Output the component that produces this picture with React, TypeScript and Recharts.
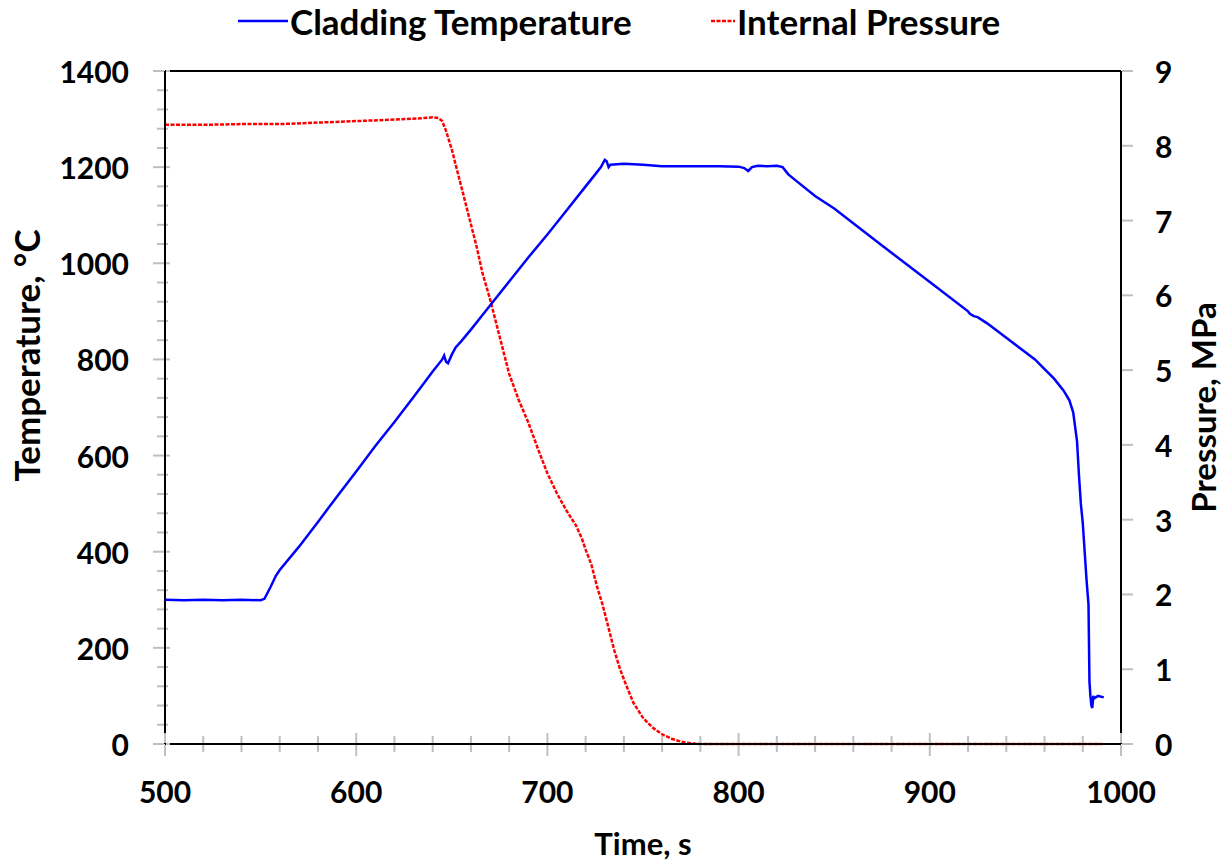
import React from 'react';
import { LineChart, Line, XAxis, YAxis, ReferenceLine, Legend } from 'recharts';

// Cladding temperature (°C) vs time (s)
const tempTimes = [
  500, 510, 520, 530, 540, 550, 552, 555, 558, 560, 570, 580, 590, 600, 610, 620, 630, 640, 645, 646,
  647, 648, 650, 652, 655, 660, 670, 680, 690, 700, 710, 720, 725, 728, 730, 731, 732, 733, 740, 750,
  760, 770, 780, 790, 800, 803, 805, 807, 810, 815, 820, 823, 826, 830, 840, 850, 875, 900, 920, 921,
  923, 925, 930, 940, 950, 955, 960, 965, 970, 973, 975, 976, 977, 978, 979, 980, 981, 982, 983, 983.5,
  984, 984.5, 985, 985.5, 986, 988, 990, 991,
];
const tempValues = [
  300, 299, 300, 299, 300, 299, 302, 325, 350, 362, 410, 462, 515, 567, 620, 670, 722, 775, 800, 808,
  795, 792, 810, 825, 838, 862, 912, 962, 1012, 1060, 1110, 1160, 1185, 1200, 1215, 1212, 1200, 1205, 1207, 1205,
  1202, 1202, 1202, 1202, 1201, 1198, 1192, 1200, 1203, 1202, 1203, 1200, 1185, 1172, 1140, 1114, 1037, 961, 900, 895,
  890, 888, 875, 845, 815, 800, 780, 760, 735, 715, 690, 660, 630, 560, 500, 460, 400, 340, 290, 130,
  100, 80, 75, 100, 95, 100, 98, 97,
];

// Internal pressure (MPa) vs time (s)
const presTimes = [
  500, 520, 540, 560, 580, 600, 620, 635, 640, 643, 645, 647, 650, 653, 656, 660, 663, 666, 670, 675,
  680, 685, 690, 695, 700, 705, 710, 715, 718, 720, 723, 726, 729, 732, 735, 738, 741, 745, 750, 755,
  760, 765, 770, 775, 780, 990,
];
const presValues = [
  8.28, 8.28, 8.29, 8.29, 8.31, 8.33, 8.35, 8.37, 8.38, 8.37, 8.33, 8.2, 7.95, 7.65, 7.35, 6.95, 6.65, 6.3, 5.95, 5.45,
  4.95, 4.6, 4.3, 3.95, 3.62, 3.35, 3.12, 2.92, 2.75, 2.6, 2.4, 2.1, 1.85, 1.55, 1.25, 1.0, 0.8, 0.55, 0.35, 0.22,
  0.13, 0.07, 0.03, 0.01, 0.0, 0.0,
];

// Axis ticks
const xTicks = [
  500, 520, 540, 560, 580, 600, 620, 640, 660, 680, 700, 720, 740, 760, 780, 800, 820, 840, 860, 880,
  900, 920, 940, 960, 980, 1000,
];
const xMajorTicks = [500, 600, 700, 800, 900, 1000];
const tempTicks = [
  0, 40, 80, 120, 160, 200, 240, 280, 320, 360, 400, 440, 480, 520, 560, 600, 640, 680, 720, 760,
  800, 840, 880, 920, 960, 1000, 1040, 1080, 1120, 1160, 1200, 1240, 1280, 1320, 1360, 1400,
];
const tempMajorTicks = [0, 200, 400, 600, 800, 1000, 1200, 1400];
const presTicks = [0, 1, 2, 3, 4, 5, 6, 7, 8, 9];

const seriesNames = ['Cladding Temperature', 'Internal Pressure'];

// Build the merged data table
const table = (() => {
  const map = new Map<number, any>();
  tempTimes.forEach((t, i) => {
    const row = map.get(t) || { t };
    row.T = tempValues[i];
    map.set(t, row);
  });
  presTimes.forEach((t, i) => {
    const row = map.get(t) || { t };
    row.P = presValues[i];
    map.set(t, row);
  });
  return Array.from(map.values()).sort((a, b) => a.t - b.t);
})();

const FONT = 'Lato, "Open Sans", sans-serif';
const TICK_GRAY = '#bfbfbf';
const labelStyle = { fontFamily: FONT, fontWeight: 700, fontSize: 30, fill: '#000' } as const;
const titleStyle = { fontFamily: FONT, fontWeight: 700, fontSize: 35, fill: '#000' } as const;
const rTitleStyle = { fontFamily: FONT, fontWeight: 700, fontSize: 33, fill: '#000' } as const;
const xTitleStyle = { fontFamily: FONT, fontWeight: 700, fontSize: 31, fill: '#000' } as const;

const L_SIZE = 12;
const L_MARGIN = 24;
const LeftTick = (props: any) => {
  const { x, y, payload } = props;
  const axisX = x + L_SIZE + L_MARGIN;
  const major = tempMajorTicks.includes(payload.value);
  const out = major ? 12 : 8;
  const inn = major ? 5 : 3;
  return (
    <g>
      <line x1={axisX - out} x2={axisX - 1} y1={y} y2={y} stroke={TICK_GRAY} strokeWidth={2} />
      <line x1={axisX + 1} x2={axisX + inn} y1={y} y2={y} stroke={TICK_GRAY} strokeWidth={2} />
      {major && (
        <text x={x} y={y} textAnchor="end" dominantBaseline="central" style={labelStyle}>
          {payload.value}
        </text>
      )}
    </g>
  );
};

const B_SIZE = 12;
const B_MARGIN = 25;
const BottomTick = (props: any) => {
  const { x, y, payload } = props;
  const axisY = y - B_SIZE - B_MARGIN;
  const major = xMajorTicks.includes(payload.value);
  const out = major ? 12 : 8;
  const inn = major ? 11 : 8;
  return (
    <g>
      <line x1={x} x2={x} y1={axisY + 1} y2={axisY + out} stroke={TICK_GRAY} strokeWidth={2} />
      <line x1={x} x2={x} y1={axisY - inn} y2={axisY - 1} stroke={TICK_GRAY} strokeWidth={2} />
      {major && (
        <text x={x} y={axisY + 47} textAnchor="middle" dominantBaseline="central" style={labelStyle}>
          {payload.value}
        </text>
      )}
    </g>
  );
};

const R_SIZE = 12;
const R_MARGIN = 22;
const RightTick = (props: any) => {
  const { x, y, payload } = props;
  const axisX = x - R_SIZE - R_MARGIN;
  return (
    <g>
      <line x1={axisX + 1} x2={axisX + 12} y1={y} y2={y} stroke={TICK_GRAY} strokeWidth={2} />
      <text x={x} y={y} textAnchor="start" dominantBaseline="central" style={labelStyle}>
        {payload.value}
      </text>
    </g>
  );
};

const LegendContent = () => (
  <svg width={1225} height={42} style={{ display: 'block' }}>
    <line x1={238} x2={288} y1={21} y2={21} stroke="#0000ff" strokeWidth={2.5} />
    <text x={290} y={21} dominantBaseline="central" style={titleStyle}>
      {seriesNames[0]}
    </text>
    <line x1={711} x2={735} y1={21} y2={21} stroke="#ff0000" strokeWidth={2.5} strokeDasharray="4 1.5" />
    <text x={737} y={21} dominantBaseline="central" style={titleStyle}>
      {seriesNames[1]}
    </text>
  </svg>
);

export default function App() {
  return (
    <div style={{ position: 'absolute', left: 0, top: 0, width: 1225, height: 862, background: '#fff' }}>
      <LineChart width={1225} height={862} data={table} margin={{ top: 71, right: 0, bottom: 0, left: 0 }}>
        <Legend
          verticalAlign="middle"
          align="center"
          content={LegendContent}
          wrapperStyle={{ position: 'absolute', top: 0, left: 0, width: 1225, height: 42 }}
        />
        <XAxis
          dataKey="t"
          type="number"
          domain={[500, 1000]}
          ticks={xTicks}
          interval={0}
          height={118}
          tickSize={B_SIZE}
          tickMargin={B_MARGIN}
          tickLine={false}
          axisLine={{ stroke: '#000', strokeWidth: 2 }}
          tick={BottomTick}
          label={(p: any) => {
            const vb = p.viewBox;
            return (
              <text x={vb.x + vb.width / 2} y={vb.y + 99} textAnchor="middle" dominantBaseline="central" style={xTitleStyle}>
                Time, s
              </text>
            );
          }}
        />
        <YAxis
          yAxisId="left"
          orientation="left"
          type="number"
          domain={[0, 1400]}
          ticks={tempTicks}
          interval={0}
          width={165}
          tickSize={L_SIZE}
          tickMargin={L_MARGIN}
          tickLine={false}
          axisLine={{ stroke: '#000', strokeWidth: 2 }}
          tick={LeftTick}
          label={(p: any) => {
            const vb = p.viewBox;
            const cx = vb.x + 26;
            const cy = vb.y + vb.height / 2 - 52;
            return (
              <text x={cx} y={cy} transform={`rotate(-90, ${cx}, ${cy})`} textAnchor="middle" dominantBaseline="central" style={titleStyle}>
                Temperature, °C
              </text>
            );
          }}
        />
        <YAxis
          yAxisId="right"
          orientation="right"
          type="number"
          domain={[0, 9]}
          ticks={presTicks}
          interval={0}
          width={104}
          tickSize={R_SIZE}
          tickMargin={R_MARGIN}
          tickLine={false}
          axisLine={{ stroke: '#000', strokeWidth: 2 }}
          tick={RightTick}
          label={(p: any) => {
            const vb = p.viewBox;
            const cx = vb.x + 82;
            const cy = vb.y + vb.height / 2;
            return (
              <text x={cx} y={cy} transform={`rotate(-90, ${cx}, ${cy})`} textAnchor="middle" dominantBaseline="central" style={rTitleStyle}>
                Pressure, MPa
              </text>
            );
          }}
        />
        <ReferenceLine yAxisId="left" y={1400} stroke="#000" strokeWidth={2} />
        <Line
          yAxisId="right"
          dataKey="P"
          name={seriesNames[1]}
          type="linear"
          stroke="#ff0000"
          strokeWidth={2.5}
          strokeDasharray="4 1.5"
          dot={false}
          connectNulls
          isAnimationActive={false}
        />
        <Line
          yAxisId="left"
          dataKey="T"
          name={seriesNames[0]}
          type="linear"
          stroke="#0000ff"
          strokeWidth={2.5}
          dot={false}
          connectNulls
          isAnimationActive={false}
        />
      </LineChart>
    </div>
  );
}
